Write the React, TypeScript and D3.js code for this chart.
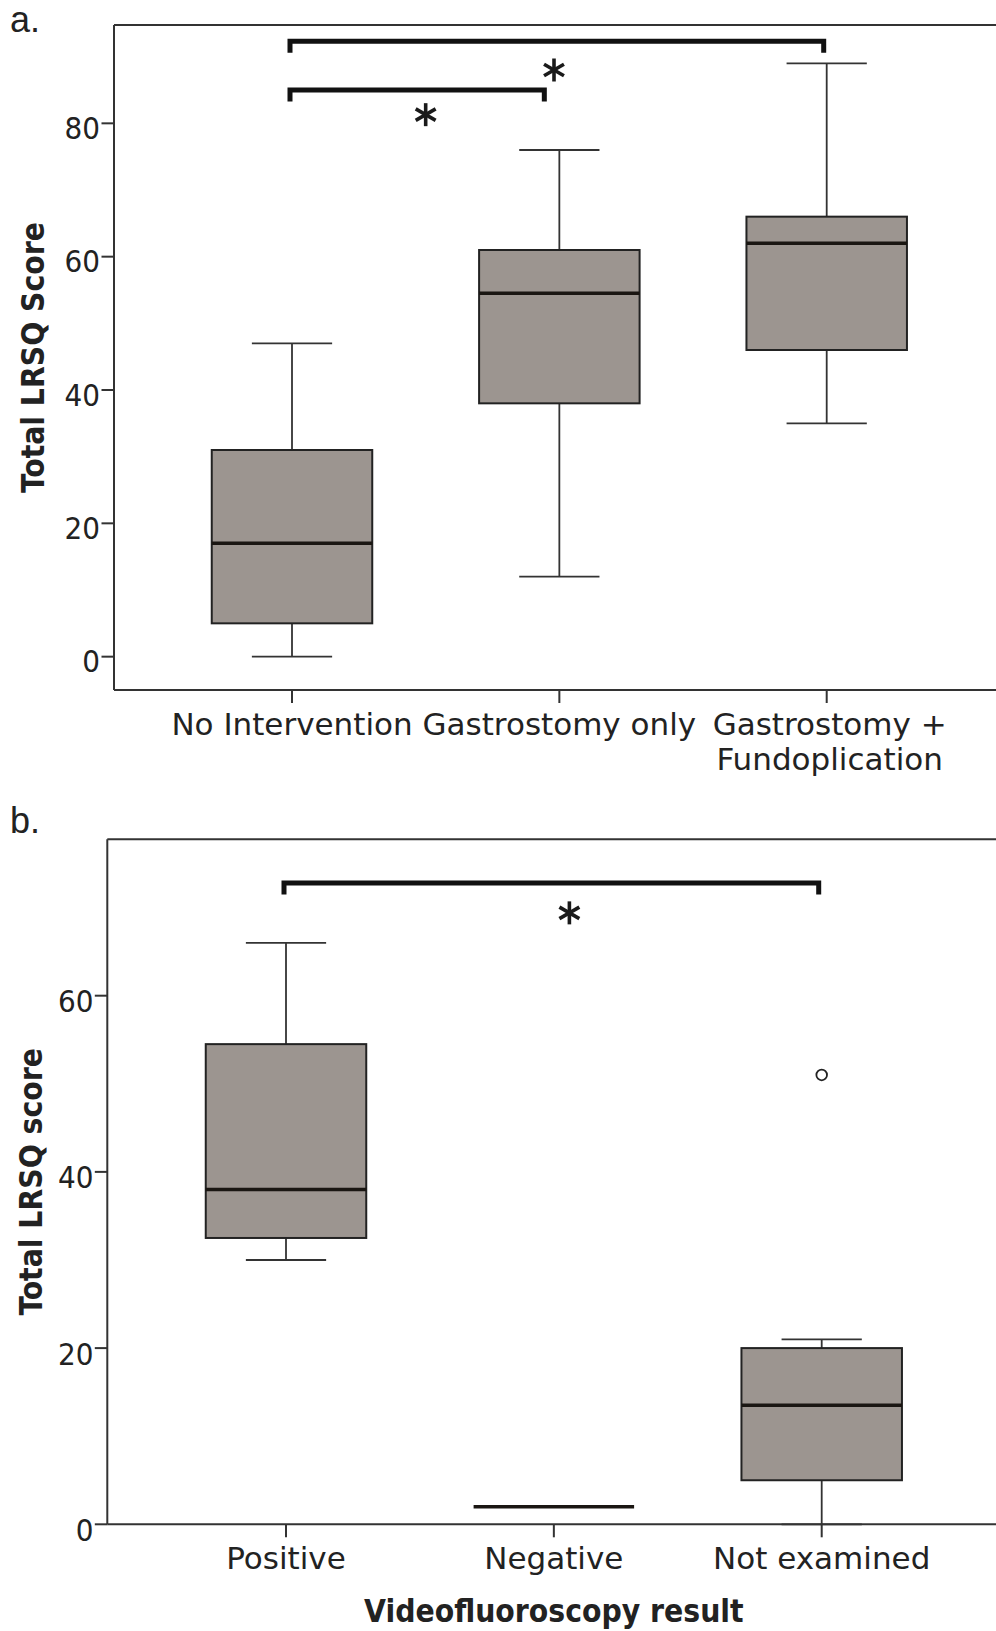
import React from "react";
import * as d3 from "d3";

const W = 996;
const H = 1631;

// Panel a: LRSQ score by intervention group
const groupsA = ["No Intervention", "Gastrostomy only", "Gastrostomy + Fundoplication"];
const labelLinesA = [["No Intervention"], ["Gastrostomy only"], ["Gastrostomy +", "Fundoplication"]];
const lowA = [0, 12, 35];
const q1A = [5, 38, 46];
const medA = [17, 54.5, 62];
const q3A = [31, 61, 66];
const highA = [47, 76, 89];
const ticksA = [0, 20, 40, 60, 80];
const bracketsA = [
  { from: 0, to: 2, level: 92.3 },
  { from: 0, to: 0.955, level: 85 },
];
const starsA = [
  { at: 0.5, level: 81.3 },
  { at: 0.98, level: 88 },
];

// Panel b: LRSQ score by videofluoroscopy result
const groupsB = ["Positive", "Negative", "Not examined"];
const labelLinesB = [["Positive"], ["Negative"], ["Not examined"]];
const lowB = [30, 2, 0];
const q1B = [32.5, 2, 5];
const medB = [38, 2, 13.5];
const q3B = [54.5, 2, 20];
const highB = [66, 2, 21];
const outlierGroupsB = ["Not examined"];
const outlierValuesB = [51];
const ticksB = [0, 20, 40, 60];
const bracketsB = [{ from: 0, to: 2, level: 72.8 }];
const starsB = [{ at: 1.058, level: 69.4 }];

type Bracket = { from: number; to: number; level: number };
type Star = { at: number; level: number };

type PanelProps = {
  letter: string;
  letterY: number;
  groups: string[];
  labelLines: string[][];
  low: number[];
  q1: number[];
  med: number[];
  q3: number[];
  high: number[];
  outGroups?: string[];
  outValues?: number[];
  ticks: number[];
  yDomain: [number, number];
  top: number;
  bottom: number;
  left: number;
  xFirst: number;
  xLast: number;
  tickLabelRight: number;
  tickBaselineShift: number;
  yTitle: string;
  yTitleX: number;
  brackets: Bracket[];
  stars: Star[];
  xTitle?: string;
  xTitleY?: number;
};

const INK = "#222";
const AXIS = "#333";
const BOX_FILL = "#9c9590";
const LABEL_FONT = "'DejaVu Sans', sans-serif";
const NUM_FONT = "'DejaVu Sans Condensed', 'DejaVu Sans', sans-serif";

function Asterisk({ x, y }: { x: number; y: number }) {
  const r = 11.5;
  const angles = [90, 30, 150];
  return (
    <g stroke="#1a1a1a" strokeWidth={3.6} strokeLinecap="butt">
      {angles.map((a) => {
        const rad = (a * Math.PI) / 180;
        const dx = r * Math.cos(rad);
        const dy = r * Math.sin(rad);
        return <line key={a} x1={x - dx} y1={y - dy} x2={x + dx} y2={y + dy} />;
      })}
    </g>
  );
}

function Panel(p: PanelProps) {
  const y = d3.scaleLinear().domain(p.yDomain).range([p.bottom, p.top]);
  const x = d3.scalePoint<string>().domain(p.groups).range([p.xFirst, p.xLast]).padding(0);
  const step = x.step();
  const boxW = 160.5;
  const capW = boxW / 2;
  const pos = (g: number) => p.xFirst + g * step;

  return (
    <g>
      <text x={10} y={p.letterY} fontFamily="'Liberation Sans', Arial, sans-serif" fontSize={36} fill={INK}>
        {p.letter}
      </text>

      {/* frame */}
      <line x1={p.left} x2={W} y1={p.top} y2={p.top} stroke={AXIS} strokeWidth={2} />
      <line x1={p.left} x2={W} y1={p.bottom} y2={p.bottom} stroke={AXIS} strokeWidth={2} />
      <line x1={p.left} x2={p.left} y1={p.top} y2={p.bottom} stroke={AXIS} strokeWidth={2} />

      {/* y ticks */}
      {p.ticks.map((t) => (
        <g key={t}>
          <line x1={p.left - 12.5} x2={p.left} y1={y(t)} y2={y(t)} stroke={AXIS} strokeWidth={2} />
          <text
            x={p.tickLabelRight}
            y={y(t) + p.tickBaselineShift}
            textAnchor="end"
            fontFamily={NUM_FONT}
            fontSize={31}
            fill={INK}
          >
            {t}
          </text>
        </g>
      ))}

      {/* x ticks and labels */}
      {p.groups.map((g, i) => (
        <g key={g}>
          <line x1={x(g)} x2={x(g)} y1={p.bottom} y2={p.bottom + 13} stroke={AXIS} strokeWidth={2} />
          <text textAnchor="middle" fontFamily={LABEL_FONT} fontSize={31} fill={INK}>
            {p.labelLines[i].map((ln, k) => (
              <tspan key={k} x={(x(g) as number) + (p.labelLines[i].length > 1 ? 3 : 0)} y={p.bottom + 45 + k * 35}>
                {ln}
              </tspan>
            ))}
          </text>
        </g>
      ))}

      {/* boxes */}
      {p.groups.map((g, i) => {
        const cx = x(g) as number;
        return (
          <g key={g}>
            <line x1={cx} x2={cx} y1={y(p.high[i])} y2={y(p.q3[i])} stroke={AXIS} strokeWidth={1.8} />
            <line x1={cx} x2={cx} y1={y(p.q1[i])} y2={y(p.low[i])} stroke={AXIS} strokeWidth={1.8} />
            <line x1={cx - capW / 2} x2={cx + capW / 2} y1={y(p.high[i])} y2={y(p.high[i])} stroke={AXIS} strokeWidth={1.8} />
            <line x1={cx - capW / 2} x2={cx + capW / 2} y1={y(p.low[i])} y2={y(p.low[i])} stroke={AXIS} strokeWidth={1.8} />
            <rect
              x={cx - boxW / 2}
              y={y(p.q3[i])}
              width={boxW}
              height={y(p.q1[i]) - y(p.q3[i])}
              fill={BOX_FILL}
              stroke={INK}
              strokeWidth={2}
            />
            <line x1={cx - boxW / 2} x2={cx + boxW / 2} y1={y(p.med[i])} y2={y(p.med[i])} stroke="#1a1612" strokeWidth={3.5} />
          </g>
        );
      })}

      {/* outliers */}
      {(p.outGroups || []).map((g, i) => (
        <circle key={i} cx={x(g)} cy={y((p.outValues || [])[i])} r={5.3} fill="#fff" stroke={INK} strokeWidth={1.8} />
      ))}

      {/* significance brackets */}
      {p.brackets.map((b, i) => {
        const x1 = pos(b.from) - 2;
        const x2 = pos(b.to) - 3;
        const yy = y(b.level);
        return (
          <path
            key={i}
            d={`M${x1},${yy + 11.5} V${yy} H${x2} V${yy + 11.5}`}
            fill="none"
            stroke="#111"
            strokeWidth={5}
            strokeLinejoin="miter"
          />
        );
      })}
      {p.stars.map((s, i) => (
        <Asterisk key={i} x={pos(s.at)} y={y(s.level)} />
      ))}

      {/* axis titles */}
      <text
        transform={`translate(${p.yTitleX},${(p.top + p.bottom) / 2}) rotate(-90)`}
        textAnchor="middle"
        fontFamily={NUM_FONT}
        fontWeight="bold"
        fontSize={31.5}
        fill={INK}
      >
        {p.yTitle}
      </text>
      {p.xTitle && (
        <text
          x={(p.xFirst + p.xLast) / 2}
          y={p.xTitleY}
          textAnchor="middle"
          fontFamily={NUM_FONT}
          fontWeight="bold"
          fontSize={31.5}
          fill={INK}
        >
          {p.xTitle}
        </text>
      )}
    </g>
  );
}

export default function App() {
  return (
    <svg
      width={W}
      height={H}
      viewBox={`0 0 ${W} ${H}`}
      style={{ position: "absolute", left: 0, top: 0, background: "#fff" }}
    >
      <rect width={W} height={H} fill="#fff" />
      <Panel
        letter="a."
        letterY={32}
        groups={groupsA}
        labelLines={labelLinesA}
        low={lowA}
        q1={q1A}
        med={medA}
        q3={q3A}
        high={highA}
        ticks={ticksA}
        yDomain={[-5, 94.75]}
        top={25}
        bottom={690}
        left={114}
        xFirst={292}
        xLast={826.7}
        tickLabelRight={100}
        tickBaselineShift={15.5}
        yTitle="Total LRSQ Score"
        yTitleX={44}
        brackets={bracketsA}
        stars={starsA}
      />
      <Panel
        letter="b."
        letterY={833}
        groups={groupsB}
        labelLines={labelLinesB}
        low={lowB}
        q1={q1B}
        med={medB}
        q3={q3B}
        high={highB}
        outGroups={outlierGroupsB}
        outValues={outlierValuesB}
        ticks={ticksB}
        yDomain={[0, 77.75]}
        top={839.3}
        bottom={1524.3}
        left={107.3}
        xFirst={286}
        xLast={821.7}
        tickLabelRight={93.5}
        tickBaselineShift={16.5}
        yTitle="Total LRSQ score"
        yTitleX={41.5}
        brackets={bracketsB}
        stars={starsB}
        xTitle="Videofluoroscopy result"
        xTitleY={1621.5}
      />
    </svg>
  );
}
